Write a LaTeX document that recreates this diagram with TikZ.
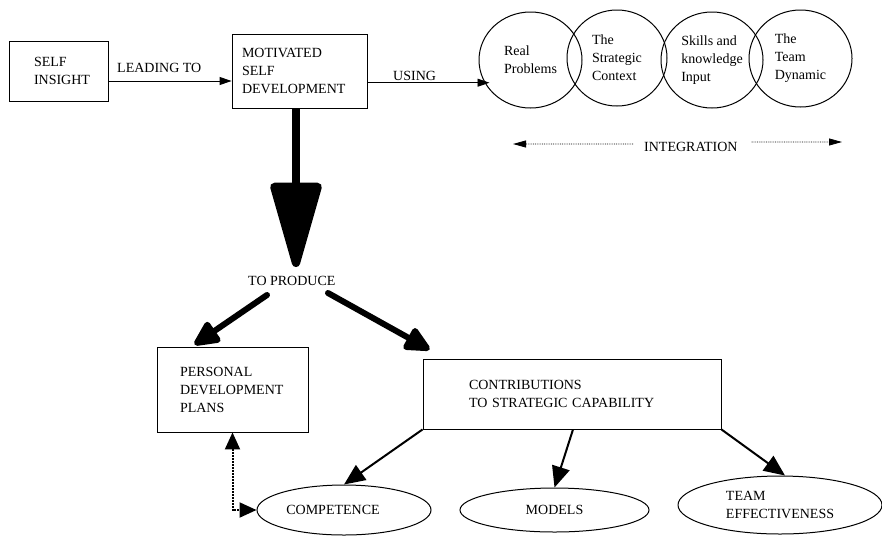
\documentclass[tikz,border=0pt]{standalone}
\usepackage{fontspec}
\setmainfont{Liberation Serif}
\usetikzlibrary{arrows.meta,shapes.geometric}
\begin{document}
\begin{tikzpicture}[x=1pt,y=-1pt,
  every node/.style={font=\fontsize{14}{18}\selectfont},
  box/.style={draw, line width=0.9pt, rectangle, inner xsep=0pt, inner ysep=0pt, align=left},
  blob/.style={draw, line width=1pt, ellipse, inner sep=0pt, align=left},
  lbl/.style={anchor=base west, inner sep=0pt},
  thinarrow/.style={line width=0.9pt, -{Triangle[length=12pt,width=8pt]}},
  bigarrow/.style={line width=8.3pt, -{Triangle[length=96pt,width=52pt,round]}},
  thickarrow/.style={line width=6pt, line cap=round, -{Triangle[length=29pt,width=26pt,round]}},
  medarrow/.style={line width=2pt, -{Triangle[length=21pt,width=18pt]}},
  dotarrow/.style={line width=2pt, densely dotted, {Triangle[length=17pt,width=15pt]}-{Triangle[length=17pt,width=15pt]}},
  intarrow/.style={line width=0.8pt, densely dotted, -{Triangle[length=13pt,width=7pt]}}
]
\useasboundingbox (0,0) rectangle (882,536);

% boxes
\node[box, minimum width=99pt, minimum height=60pt, text width=49pt] (si) at (58.5,71) {SELF\\INSIGHT};
\node[box, minimum width=135pt, minimum height=74pt, text width=115pt] (msd) at (299.5,71) {MOTIVATED\\SELF\\DEVELOPMENT};
\node[box, minimum width=151pt, minimum height=85pt, text width=105pt] (pdp) at (232.5,389.5) {PERSONAL\\DEVELOPMENT\\PLANS};
\node[box, minimum width=298pt, minimum height=70pt, text width=206pt] (csc) at (572,394) {CONTRIBUTIONS\\TO STRATEGIC CAPABILITY};

% circles
\node[blob, minimum width=103pt, minimum height=96pt] (c1) at (530.5,60) {Real\\Problems};
\node[blob, minimum width=100pt, minimum height=96pt] (c2) at (617,58) {The\\Strategic\\Context};
\node[blob, minimum width=102pt, minimum height=96pt] (c3) at (712,60) {Skills and\\knowledge\\Input\hspace*{14pt}};
\node[blob, minimum width=103pt, minimum height=97pt] (c4) at (800.5,58.5) {The\\Team\\Dynamic};

% bottom ellipses
\node[blob, minimum width=174pt, minimum height=50pt] (comp) at (344,510) {COMPETENCE\hspace*{22pt}};
\node[blob, minimum width=189pt, minimum height=44pt] (models) at (554.5,510) {MODELS};
\node[blob, minimum width=204pt, minimum height=58pt] (team) at (780,505) {TEAM\\EFFECTIVENESS};

% labels
\node[lbl] (lt) at (117,72.7) {LEADING TO};
\node[lbl] (us) at (393,80) {USING};
\node[lbl] (integ) at (644,151) {INTEGRATION};
\node[lbl] (tp) at (248,285) {TO PRODUCE};

% free ends
\coordinate (bigtip) at (296,267);
\coordinate (ls) at (267,295);
\coordinate (rs) at (328,293);
\coordinate (il) at (513,144);
\coordinate (ir) at (842,142);

% connectors
\draw[thinarrow] ([yshift=-10pt]si.east) -- ([yshift=-10pt]msd.west);
\draw[thinarrow] ([yshift=-11.7pt]msd.east) -- ([xshift=11pt,yshift=-22.7pt]c1.west);
\draw[bigarrow] (msd.south -| bigtip) -- (bigtip);
\draw[thickarrow] (ls) -- ([xshift=38pt,yshift=2pt]pdp.north west);
\draw[thickarrow] (rs) -- ([xshift=7pt,yshift=9pt]csc.north west);
\draw[medarrow] (csc.south west) -- (comp.north);
\draw[medarrow] ([xshift=1pt]csc.south) -- (models.north);
\draw[medarrow] (csc.south east) -- ([xshift=5pt]team.north);
\draw[dotarrow] (pdp.south) |- (comp.west);
\draw[intarrow] ([xshift=-11pt,yshift=2.5pt]integ.west) -- (il);
\draw[intarrow] ([xshift=14pt,yshift=4.5pt]integ.east) -- (ir);
\end{tikzpicture}
\end{document}
